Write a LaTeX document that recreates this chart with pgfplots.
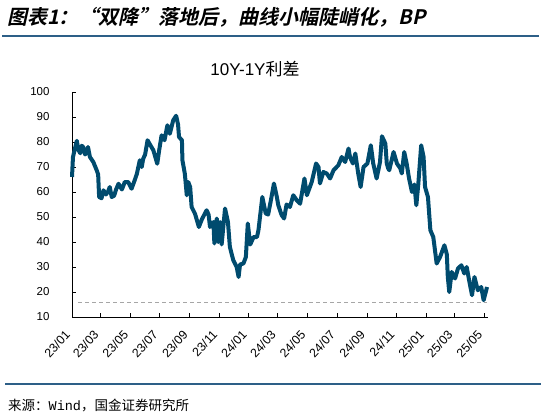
\documentclass[border=0pt]{standalone}
\usepackage{pgfplots}
\pgfplotsset{compat=1.18}
\usepackage{fontspec}
\setmainfont{Liberation Sans}
\newfontfamily\cjk{Noto Sans CJK SC}
\newfontfamily\cjkhead[FakeSlant=0.22]{Noto Sans CJK SC Bold}
\newfontfamily\monofont{Liberation Mono}
\definecolor{linec}{RGB}{0,75,110}
\definecolor{rulec}{RGB}{45,95,135}
\begin{document}
\begin{tikzpicture}
\path[use as bounding box] (0bp,0bp) rectangle (541bp,416bp);
% header
\node[anchor=west,inner sep=0pt] at (7bp,399bp) {\cjkhead\fontsize{20bp}{22bp}\selectfont 图表1：“双降”落地后，曲线小幅陡峭化，BP};
\draw[rulec,line width=1.5bp] (2bp,380bp) -- (539bp,380bp);
% title
\node[inner sep=0pt] at (255bp,347bp) {\fontsize{17bp}{19bp}\selectfont 10Y-1Y{\cjk 利差}};
% footer
\draw[rulec,line width=1.5bp] (5bp,32bp) -- (541bp,32bp);
\node[anchor=west,inner sep=0pt] at (8bp,11bp) {\fontsize{13.5bp}{15bp}\selectfont{\cjk 来源：}{\monofont Wind}{\cjk ，国金证券研究所}};
\begin{axis}[
  at={(72bp,99bp)}, anchor=south west,
  scale only axis, width=416bp, height=225bp,
  xmin=0, xmax=859, ymin=10, ymax=100,
  axis x line*=bottom, axis y line*=left,
  axis line style={black,line width=0.9bp},
  tick style={black,line width=0.8bp},
  tick align=inside, major tick length=4bp,
  xtick={0,59,120,181,243,304,365,425,486,547,609,670,731,790,851},
  xticklabels={23/01,23/03,23/05,23/07,23/09,23/11,24/01,24/03,24/05,24/07,24/09,24/11,25/01,25/03,25/05},
  ytick={10,20,30,40,50,60,70,80,90,100},
  /pgf/number format/assume math mode=true,
  tick label style={font=\fontsize{11.5bp}{13bp}\selectfont},
  xticklabel style={font=\fontsize{12.3bp}{13bp}\selectfont,xshift=-2bp,yshift=-13bp,rotate=47,anchor=east},
  yticklabel style={xshift=-19bp},
  clip=false,
]
\addplot[color={rgb,255:red,166;green,166;blue,166}, line width=0.8bp, dash pattern=on 4bp off 3bp] coordinates {(13,16) (856,16)};
\addplot[linec, line width=4bp, line join=round] coordinates {
(0,66) (2,74) (10,80.5) (13,77) (17,75.5) (20,78.5) (23,78) (27,75) (30,76) (33,78) (37,74)
(44,72) (51,68.7) (54,67) (56,58) (61,57.5) (65,60.7) (70,59) (74,60) (78,62) (82,58)
(87,58.5) (91,61) (96,63.3) (103,61) (109,64) (116,64) (123,61.3) (130,65) (134,67.3)
(140,72.7) (144,70) (147,73.3) (151,75) (156,80.7) (161,79) (168,76.7) (176,71.3)
(180,76.7) (185,82.7) (191,80.7) (197,86.7) (202,83.3) (209,88.7) (215,90.5) (219,87)
(221,82) (227,80.7) (228,72.7) (233,67.3) (237,58.7) (240,64) (244,62) (247,54) (254,51.3)
(262,46) (268,49) (278,52.7) (282,51) (285,46) (292,48) (294,39.4) (299,49.4) (302,40)
(306,48) (309,39) (316,53.4) (322,48) (326,38) (333,32.7) (340,30) (344,26) (347,31)
(354,31.4) (359,34) (363,47.4) (368,39) (375,42) (382,42) (385,44.7) (393,58) (400,51.4)
(405,51) (411,57) (417,63.4) (423,58) (426,54.7) (433,50.7) (438,49.4) (443,55) (450,54)
(457,58.7) (464,56.7) (471,55.3) (480,65.4) (485,58.7) (495,64) (504,71.4) (509,70)
(512,63.4) (519,68) (526,67.4) (533,65.4) (540,68.7) (550,70.7) (557,74) (564,72)
(571,77.4) (574,74) (580,71.4) (585,75.4) (591,67.4) (596,62) (602,70) (610,71.4)
(617,78.7) (622,71.4) (629,65.4) (636,72) (640,82.3) (647,79.4) (650,71.4) (653,69.4)
(655,68.7) (660,72.7) (664,76) (671,71.4) (678,69.4) (681,67.4) (686,76) (691,71.4)
(696,65.4) (702,60) (707,63) (711,54.7) (715,63) (721,78.7) (726,74) (729,62) (735,58)
(740,44.7) (746,42) (753,31.4) (760,34) (769,38.7) (774,35) (776,26) (779,20) (784,28)
(791,25.4) (797,29.4) (804,30.7) (810,27.4) (815,30) (820,24.7) (826,18.7) (831,26)
(838,20.7) (845,22) (850,16.7) (857,22)
};
\end{axis}
\end{tikzpicture}
\end{document}
